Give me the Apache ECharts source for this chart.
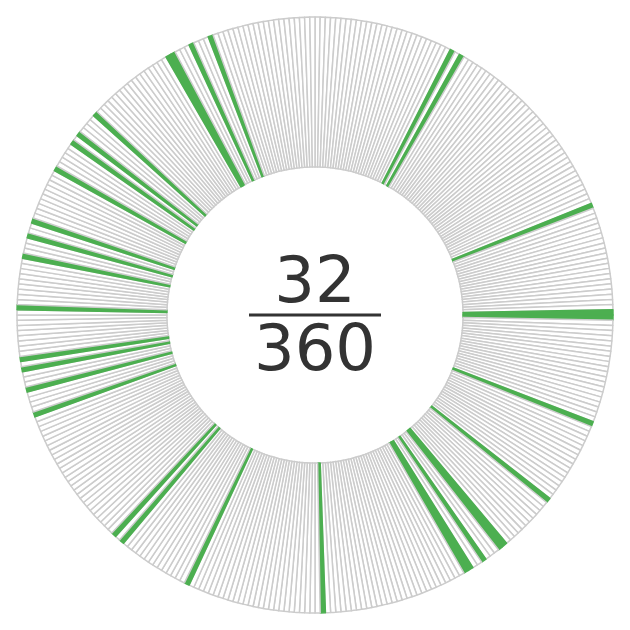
<!DOCTYPE html>
<html>
<head>
<meta charset="utf-8">
<script src="https://cdn.jsdelivr.net/npm/echarts@6/dist/echarts.min.js"></script>
<style>
html,body{margin:0;padding:0;background:#fff;}
#main{width:630px;height:630px;}
</style>
</head>
<body>
<div id="main"></div>
<script>
// 360 equal slices; the highlighted ones (index clockwise from top) are green
const totalSlices = 360;
const sliceValues = Array.from({length: totalSlices}, () => 1);
const highlighted = [27, 29, 68, 89, 90, 111, 128, 140, 141, 145, 148, 149, 178, 205,
  220, 222, 250, 255, 259, 261, 271, 281, 285, 288, 299, 305, 307, 312, 330, 331, 335, 339];
const numeratorLabel = String(highlighted.length);
const denominatorLabel = String(totalSlices);

const GREEN = '#4caf50';
const GRAY = '#cccccc';
const hi = new Set(highlighted);

const data = sliceValues.map((v, i) => ({
  name: 'slice' + i,
  value: v,
  itemStyle: hi.has(i)
    ? { color: GREEN, borderColor: GREEN, borderWidth: 1.5 }
    : { color: '#ffffff', borderColor: GRAY, borderWidth: 1.5 }
}));

const chart = echarts.init(document.getElementById('main'), null, {renderer: 'canvas'});
chart.setOption({
  animation: false,
  backgroundColor: '#ffffff',
  series: [{
    type: 'pie',
    center: ['50%', '50%'],
    radius: ['47%', '94.6%'],
    startAngle: 90,
    clockwise: true,
    silent: true,
    label: { show: false },
    labelLine: { show: false },
    emphasis: { disabled: true },
    data: data
  }],
  graphic: [
    {
      type: 'text',
      left: 'center',
      top: 253,
      style: {
        text: numeratorLabel,
        font: '64px "DejaVu Sans"',
        fill: '#333333',
        textAlign: 'center'
      }
    },
    {
      type: 'rect',
      left: 'center',
      top: 313.5,
      shape: { width: 132, height: 3 },
      style: { fill: '#333333' }
    },
    {
      type: 'text',
      left: 'center',
      top: 321,
      style: {
        text: denominatorLabel,
        font: '64px "DejaVu Sans"',
        fill: '#333333',
        textAlign: 'center'
      }
    }
  ]
});
</script>
</body>
</html>
